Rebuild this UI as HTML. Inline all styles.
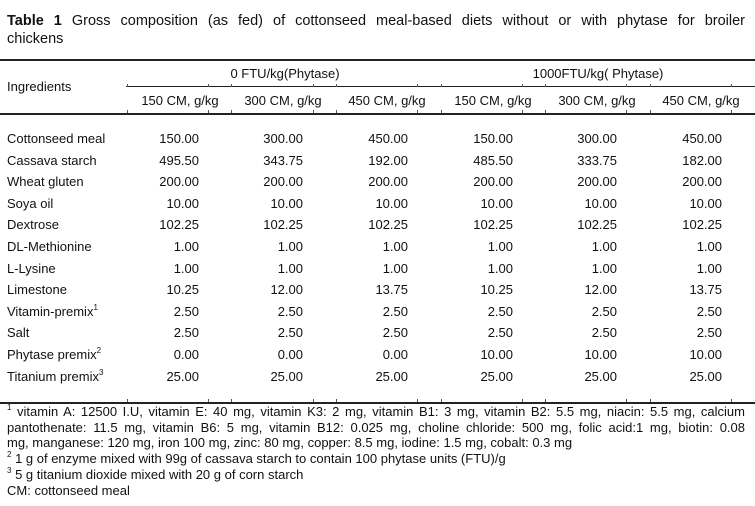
<!DOCTYPE html>
<html><head><meta charset="utf-8"><style>
body{margin:0;width:755px;height:506px;background:#fff;font-family:"Liberation Sans",Arial,sans-serif;color:#111;position:relative;overflow:hidden}
.a{position:absolute;white-space:nowrap}
.rule{position:absolute;background:#222;height:1.5px}
.tick{position:absolute;width:1px;height:3px;background:#555}
.ln{position:absolute;left:7px;width:738px;font-size:13px;line-height:15px;white-space:nowrap}
.j{text-align:justify;text-align-last:justify;white-space:normal}
.num{position:absolute;font-size:13px;text-align:right;width:60px}
sup{font-size:8px;vertical-align:6px;line-height:0}
</style></head><body>
<div class="ln j" style="top:12px;font-size:14.5px;line-height:18px"><b>Table 1</b> Gross composition (as fed) of cottonseed meal-based diets without or with phytase for broiler</div>
<div class="ln" style="top:30px;font-size:14.5px;line-height:18px">chickens</div>

<div class="rule" style="top:59px;left:0;width:755px"></div>
<div class="rule" style="top:86px;left:126px;width:629px;height:1px"></div>
<div class="rule" style="top:113px;left:0;width:755px"></div>
<div class="rule" style="top:402px;left:0;width:755px"></div>

<div class="a" style="left:7px;top:79px;font-size:13px">Ingredients</div>
<div class="a" style="left:185px;width:200px;text-align:center;top:66px;font-size:13px">0 FTU/kg(Phytase)</div>
<div class="a" style="left:498px;width:200px;text-align:center;top:66px;font-size:13px">1000FTU/kg( Phytase)</div>
<div id="tbl"></div>

<div class="ln j" style="top:404px"><sup>1</sup> vitamin A: 12500 I.U, vitamin E: 40 mg, vitamin K3: 2 mg, vitamin B1: 3 mg, vitamin B2: 5.5 mg, niacin: 5.5 mg, calcium</div>
<div class="ln j" style="top:420px">pantothenate: 11.5 mg, vitamin B6: 5 mg, vitamin B12: 0.025 mg, choline chloride: 500 mg, folic acid:1 mg, biotin: 0.08</div>
<div class="ln" style="top:435px">mg, manganese: 120 mg, iron 100 mg, zinc: 80 mg, copper: 8.5 mg, iodine: 1.5 mg, cobalt: 0.3 mg</div>
<div class="ln" style="top:451px"><sup>2</sup> 1 g of enzyme mixed with 99g of cassava starch to contain 100 phytase units (FTU)/g</div>
<div class="ln" style="top:467px"><sup>3</sup> 5 g titanium dioxide mixed with 20 g of corn starch</div>
<div class="ln" style="top:483px">CM: cottonseed meal</div>

<script>
const subheads=["150 CM, g/kg","300 CM, g/kg","450 CM, g/kg","150 CM, g/kg","300 CM, g/kg","450 CM, g/kg"];
const ingredients=["Cottonseed meal","Cassava starch","Wheat gluten","Soya oil","Dextrose","DL-Methionine","L-Lysine","Limestone","Vitamin-premix<sup>1</sup>","Salt","Phytase premix<sup>2</sup>","Titanium premix<sup>3</sup>"];
const values=[
["150.00","300.00","450.00","150.00","300.00","450.00"],
["495.50","343.75","192.00","485.50","333.75","182.00"],
["200.00","200.00","200.00","200.00","200.00","200.00"],
["10.00","10.00","10.00","10.00","10.00","10.00"],
["102.25","102.25","102.25","102.25","102.25","102.25"],
["1.00","1.00","1.00","1.00","1.00","1.00"],
["1.00","1.00","1.00","1.00","1.00","1.00"],
["10.25","12.00","13.75","10.25","12.00","13.75"],
["2.50","2.50","2.50","2.50","2.50","2.50"],
["2.50","2.50","2.50","2.50","2.50","2.50"],
["0.00","0.00","0.00","10.00","10.00","10.00"],
["25.00","25.00","25.00","25.00","25.00","25.00"]];
const rightEdges=[199,303,408,513,617,722];
const subCenters=[180,283,387,493,597,701];
const ticks=[127,208,231,313,336,417,441,522,545,626,650,731];
const tbl=document.getElementById('tbl');
subheads.forEach((s,i)=>{const d=document.createElement('div');d.className='a';


d.style.cssText=`left:${subCenters[i]-60}px;width:120px;text-align:center;top:93px;font-size:13px`;d.textContent=s;tbl.appendChild(d);});
ticks.forEach(x=>{[87,113,402].forEach(y=>{const t=document.createElement('div');t.className='tick';


t.style.left=x+'px';t.style.top=(y-3)+'px';tbl.appendChild(t);});});
ingredients.forEach((n,r)=>{const y=131+r*21.6;
const l=document.createElement('div');l.className='a';


l.style.cssText=`left:7px;top:${y}px;font-size:13px`;l.innerHTML=n;tbl.appendChild(l);
values[r].forEach((v,c)=>{const d=document.createElement('div');d.className='num';


d.style.left=(rightEdges[c]-60)+'px';d.style.top=y+'px';d.textContent=v;tbl.appendChild(d);});});
</script>
</body></html>
